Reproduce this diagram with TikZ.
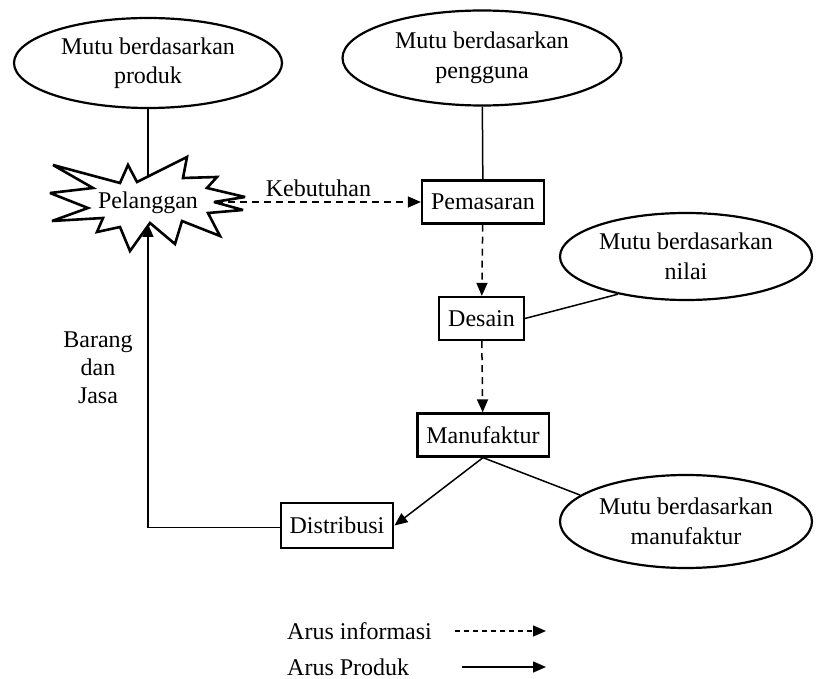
\documentclass[tikz,border=0pt]{standalone}
\usepackage{fontspec}
\setmainfont{Liberation Serif}
\usetikzlibrary{shapes.geometric,arrows.meta}
\begin{document}
\begin{tikzpicture}[x=1pt,y=-1pt,
  every node/.style={font=\fontsize{24}{29.5}\selectfont},
  oval/.style={ellipse,draw,line width=2.2pt,inner sep=0pt,align=center},
  proc/.style={rectangle,draw,line width=2.3pt,inner xsep=9pt,inner ysep=0pt,minimum height=43pt},
  link/.style={line width=1.5pt},
  tip/.style={-{Triangle[length=13pt,width=11pt]}},
  info/.style={link,tip,dash pattern=on 7pt off 5pt},
  prod/.style={link,tip},
  legdash/.style={link,tip,dash pattern=on 5pt off 4pt},
  burst/.style={line width=2.6pt,miter limit=4,fill=white}
]
\useasboundingbox (0,0) rectangle (823,679);

% quality perspectives
\node[oval,minimum width=268pt,minimum height=90pt] (e1) at (148,63) {Mutu berdasarkan\\produk};
\node[oval,minimum width=279pt,minimum height=95pt] (e2) at (482,58) {Mutu berdasarkan\\pengguna};
\node[oval,minimum width=252pt,minimum height=87pt] (e3) at (686,256.5) {Mutu berdasarkan\\nilai};
\node[oval,minimum width=252pt,minimum height=93pt] (e4) at (686,521.5) {Mutu berdasarkan\\manufaktur};

% customer starburst
\draw[burst] (53,165) -- (120,183) -- (128,165) -- (137,182) -- (187,157) -- (183,178)
  -- (217,177) -- (207,188) -- (245,197) -- (214,202) -- (243,210) -- (208,213)
  -- (220,236) -- (182,221) -- (175,244) -- (150,223) -- (130,251) -- (120,227)
  -- (97,232) -- (103,218) -- (52,221) -- (88,208) -- (50,193) -- (93,188) -- cycle;
\node (pel) at (148,203) {Pelanggan};
\coordinate (pelTop) at (148,176.5);
\coordinate (pelBot) at (148,224);
\coordinate (pelRight) at (216,202);

% process chain
\node[proc] (pem) at (483,202) {Pemasaran};
\node[proc] (des) at (481.5,318.5) {Desain};
\node[proc] (man) at (483,435) {Manufaktur};
\node[proc,minimum height=45pt] (dist) at (337,525.5) {Distribusi};

% connectors
\draw[link] (e1) -- (pelTop);
\draw[link] (e2) -- (pem);
\draw[info] (pelRight) -- node[above=1pt] {Kebutuhan} (pem.west);
\draw[info] (pem) -- (des);
\draw[info] (des) -- (man);
\draw[link] (des.east) -- (e3.209);
\draw[prod] (man.south) -- (dist.east);
\draw[link] (man.south) -- (e4.166);
\draw[prod] ([yshift=-2pt]dist.west) -| (pelBot);

\node[align=center,font=\fontsize{24}{28}\selectfont] (bdj) at (98,368) {Barang\\dan\\Jasa};

% legend
\node[anchor=west,inner xsep=0pt] (leg1) at (287,631) {Arus informasi};
\node[anchor=west,inner xsep=0pt] (leg2) at (287,667) {Arus Produk};
\coordinate (l1a) at (455,631);
\coordinate (l1b) at (546,631);
\coordinate (l2a) at (462,667);
\coordinate (l2b) at (546,667);
\draw[legdash] (l1a) -- (l1b);
\draw[prod] (l2a) -- (l2b);
\end{tikzpicture}
\end{document}
